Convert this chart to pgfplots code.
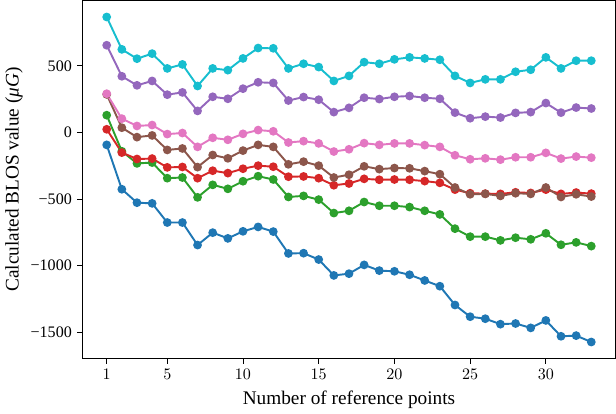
\documentclass[border=0pt]{standalone}
\usepackage{fontspec}
\setmainfont{Liberation Serif}
\usepackage{pgfplots}
\usepackage{pgfplotstable}
\pgfplotsset{compat=1.18}
\definecolor{tblue}{HTML}{1F77B4}
\definecolor{tgreen}{HTML}{2CA02C}
\definecolor{tred}{HTML}{D62728}
\definecolor{tbrown}{HTML}{8C564B}
\definecolor{tpink}{HTML}{E377C2}
\definecolor{tpurple}{HTML}{9467BD}
\definecolor{tcyan}{HTML}{17BECF}
\pgfplotstableread{
x blue green red brown pink purple cyan
1 -94 129 23 285 290 654 866
2 -427 -142 -152 35 103 421 623
3 -528 -233 -200 -36 48 353 553
4 -533 -227 -197 -23 55 386 591
5 -677 -344 -263 -132 -13 283 480
6 -677 -339 -260 -121 -5 300 510
7 -846 -488 -344 -261 -109 161 348
8 -753 -394 -288 -170 -41 267 480
9 -796 -424 -306 -195 -56 252 467
10 -743 -367 -273 -137 -11 328 555
11 -710 -329 -250 -94 17 376 633
12 -745 -354 -258 -109 8 371 631
13 -909 -485 -333 -240 -76 239 480
14 -907 -477 -331 -220 -66 265 515
15 -955 -505 -344 -250 -83 245 490
16 -1074 -606 -397 -339 -144 152 386
17 -1061 -589 -384 -318 -127 184 424
18 -995 -523 -349 -255 -81 260 527
19 -1038 -551 -356 -276 -94 250 515
20 -1043 -551 -354 -268 -83 267 548
21 -1069 -561 -356 -270 -83 273 563
22 -1112 -589 -366 -291 -96 260 555
23 -1155 -616 -379 -314 -109 252 545
24 -1296 -723 -430 -414 -172 148 424
25 -1384 -783 -457 -465 -202 106 371
26 -1399 -783 -460 -462 -195 118 398
27 -1440 -811 -462 -477 -205 111 398
28 -1435 -791 -450 -457 -187 146 455
29 -1468 -803 -455 -462 -187 152 470
30 -1412 -758 -430 -414 -154 220 563
31 -1531 -844 -462 -485 -197 148 480
32 -1526 -826 -452 -465 -182 186 538
33 -1574 -854 -460 -482 -190 179 538
}\datatable
\begin{document}
\begin{tikzpicture}
\begin{axis}[
  scale only axis,
  width=332pt, height=223pt,
  xmin=-0.6, xmax=34.6,
  ymin=-1698, ymax=990,
  xtick={1,5,10,15,20,25,30},
  ytick={-1500,-1000,-500,0,500},
  yticklabels={−1500,−1000,−500,0,500},
  tick pos=left,
  tick align=outside,
  major tick length=3.1pt,
  tick style={black, line width=0.5pt},
  axis line style={line width=0.6pt},
  ticklabel style={font=\fontsize{10}{12}\selectfont},
  xlabel={Number of reference points},
  ylabel={Calculated BLOS value (\textit{μG})},
  label style={font=\fontsize{12}{14}\selectfont},
  ylabel style={yshift=-2pt},
  every axis plot/.append style={line width=1.2pt, mark=*, mark size=2.1pt},
]
\addplot[color=tblue, mark options={fill=tblue}] table[x=x, y=blue] {\datatable};
\addplot[color=tgreen, mark options={fill=tgreen}] table[x=x, y=green] {\datatable};
\addplot[color=tred, mark options={fill=tred}] table[x=x, y=red] {\datatable};
\addplot[color=tpurple, mark options={fill=tpurple}] table[x=x, y=purple] {\datatable};
\addplot[color=tbrown, mark options={fill=tbrown}] table[x=x, y=brown] {\datatable};
\addplot[color=tpink, mark options={fill=tpink}] table[x=x, y=pink] {\datatable};
\addplot[color=tcyan, mark options={fill=tcyan}] table[x=x, y=cyan] {\datatable};
\end{axis}
\end{tikzpicture}
\end{document}
